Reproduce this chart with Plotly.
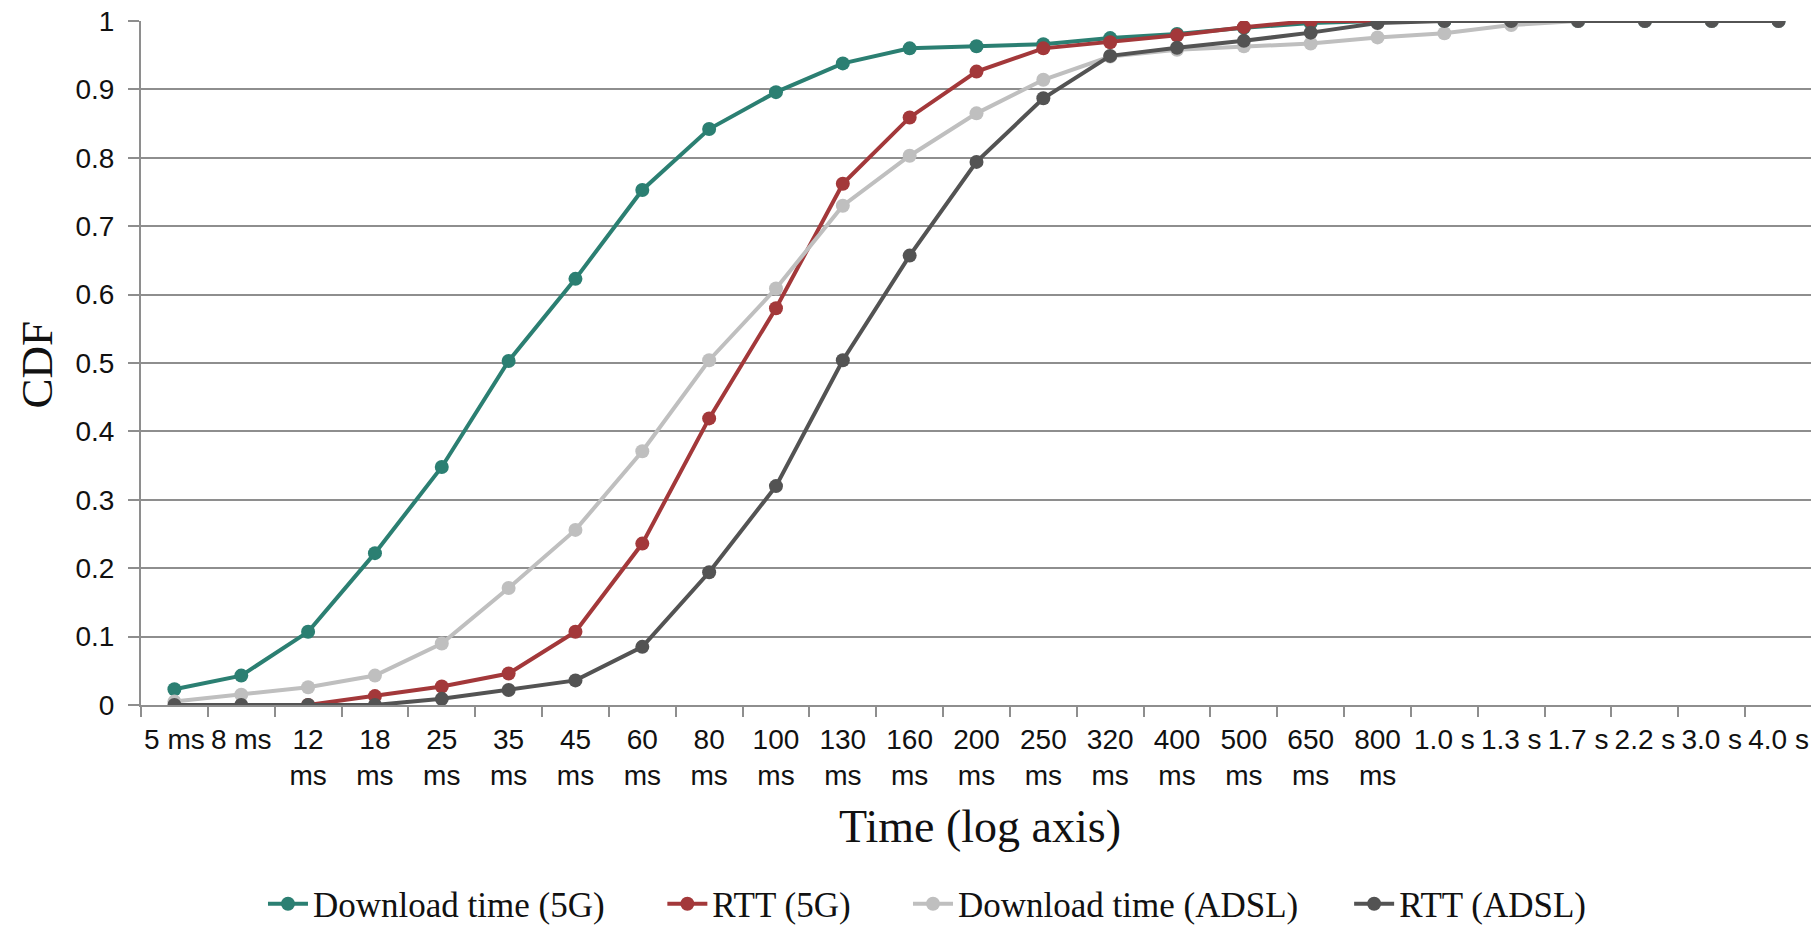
import plotly.graph_objects as go

categories = ["5 ms", "8 ms", "12 ms", "18 ms", "25 ms", "35 ms", "45 ms", "60 ms", "80 ms",
              "100 ms", "130 ms", "160 ms", "200 ms", "250 ms", "320 ms", "400 ms", "500 ms",
              "650 ms", "800 ms", "1.0 s", "1.3 s", "1.7 s", "2.2 s", "3.0 s", "4.0 s"]

download_5g = [0.023, 0.043, 0.107, 0.222, 0.348, 0.503, 0.623, 0.753, 0.842, 0.896, 0.938,
               0.960, 0.963, 0.966, 0.975, 0.981, 0.990, 0.997, 1.0, 1.0, 1.0, 1.0, 1.0, 1.0, 1.0]
rtt_5g = [None, None, 0.0, 0.013, 0.027, 0.046, 0.107, 0.236, 0.419, 0.580, 0.762,
          0.859, 0.926, 0.960, 0.969, 0.979, 0.991, 1.0, 1.0, None, None, None, None, None, None]
download_adsl = [0.005, 0.015, 0.026, 0.043, 0.090, 0.171, 0.256, 0.371, 0.504, 0.609, 0.730,
                 0.803, 0.865, 0.914, 0.948, 0.958, 0.963, 0.967, 0.976, 0.982, 0.994, 1.0, 1.0, 1.0, 1.0]
rtt_adsl = [0.0, 0.0, 0.0, 0.0, 0.009, 0.022, 0.036, 0.085, 0.194, 0.320, 0.504,
            0.657, 0.794, 0.887, 0.949, 0.961, 0.971, 0.983, 0.997, 1.0, 1.0, 1.0, 1.0, 1.0, 1.0]

series = [
    ("Download time (5G)", download_5g, "#2B7F72"),
    ("RTT (5G)", rtt_5g, "#A3383A"),
    ("Download time (ADSL)", download_adsl, "#BFBFBF"),
    ("RTT (ADSL)", rtt_adsl, "#535353"),
]

tick_text = [c if (len(c) <= 4 or c.endswith(" s")) else c.replace(" ", "<br>") for c in categories]

legend_names = ["legend", "legend2", "legend3", "legend4"]
legend_x = [0.073, 0.312, 0.459, 0.723]

fig = go.Figure()
for (name, vals, color), lg in zip(series, legend_names):
    fig.add_trace(go.Scatter(
        x=categories, y=vals, name=name, mode="lines+markers",
        line=dict(color=color, width=4),
        marker=dict(color=color, size=14, symbol="circle"),
        connectgaps=False, legend=lg,
    ))

grid_color = "#8E8E8E"
legend_font = dict(family="Liberation Serif", size=35, color="#111111")
layout_legends = {}
for lg, lx in zip(legend_names, legend_x):
    layout_legends[lg] = dict(
        orientation="h", x=lx, xanchor="left", y=-0.291, yanchor="middle",
        font=legend_font, itemwidth=40, bgcolor="rgba(0,0,0,0)",
    )

fig.update_layout(
    width=1811, height=917,
    margin=dict(l=133, r=7, t=13, b=220, autoexpand=False),
    paper_bgcolor="white", plot_bgcolor="white",
    showlegend=True,
    xaxis=dict(
        type="category", categoryorder="array", categoryarray=categories,
        range=[-0.5, len(categories) - 0.5],
        tickmode="array", tickvals=categories, ticktext=tick_text, tickangle=0,
        showgrid=False, showline=True, linecolor=grid_color, linewidth=2,
        ticks="outside", tickson="boundaries", ticklen=10, tickcolor=grid_color, tickwidth=2,
        ticklabelstandoff=8, ticklabeloverflow="allow",
        tickfont=dict(family="Liberation Sans", size=28, color="#111111"),
        zeroline=False, automargin=False,
    ),
    yaxis=dict(
        range=[0, 1], dtick=0.1, tick0=0,
        showgrid=True, gridcolor=grid_color, gridwidth=2,
        showline=True, linecolor=grid_color, linewidth=2,
        ticks="outside", ticklen=11, tickcolor=grid_color, tickwidth=2,
        ticklabelstandoff=8, ticklabeloverflow="allow",
        tickfont=dict(family="Liberation Sans", size=28, color="#111111"),
        zeroline=False, automargin=False,
    ),
    annotations=[
        dict(text="CDF", xref="paper", yref="paper", x=-0.0625, y=0.497,
             xanchor="center", yanchor="middle", textangle=-90, showarrow=False,
             font=dict(family="Liberation Serif", size=45, color="#111111")),
        dict(text="Time (log axis)", xref="paper", yref="paper", x=0.502, y=-0.177,
             xanchor="center", yanchor="middle", showarrow=False,
             font=dict(family="Liberation Serif", size=46, color="#111111")),
    ],
    **layout_legends,
)

fig.write_html("out.html")
